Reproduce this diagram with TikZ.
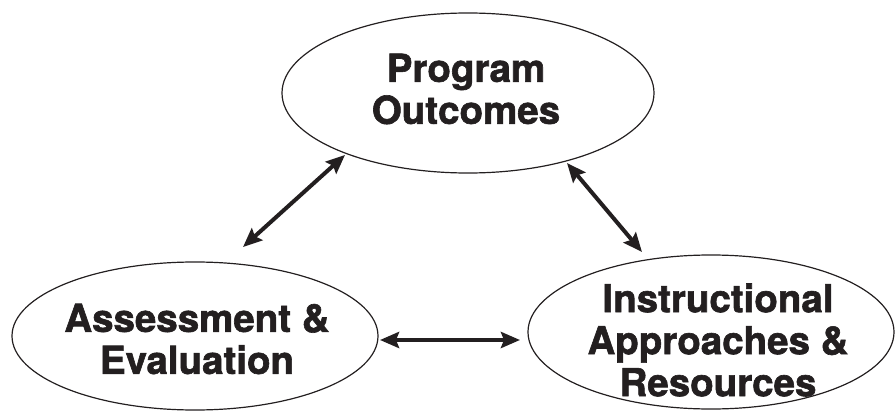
\documentclass[tikz,border=0pt]{standalone}
\usepackage{fontspec}
\setmainfont{TeX Gyre Heros}[BoldFeatures={FakeBold=1.6}]
\usetikzlibrary{shapes.geometric,arrows.meta,calc}
\definecolor{ink}{HTML}{231F20}
\tikzset{
  oval/.style={ellipse, draw=ink, line width=1.2pt, inner sep=0pt},
  lbl/.style={align=center, text=ink, font=\fontsize{38.5}{42}\selectfont\bfseries, inner sep=0pt},
  arr/.style={draw=ink, line width=4pt, {Stealth[length=19pt,width=16pt,inset=3pt]}-{Stealth[length=19pt,width=16pt,inset=3pt]}}
}
\begin{document}
\begin{tikzpicture}[x=1pt,y=-1pt]
\useasboundingbox (0,0) rectangle (895,412);
\node[oval, minimum width=372pt, minimum height=160pt] (po) at (468,93) {};
\node[oval, minimum width=366pt, minimum height=148pt] (ae) at (195,336) {};
\node[oval, minimum width=366pt, minimum height=154pt] (ir) at (711,332) {};
\node[lbl] (pot) at (466,89) {Program\\Outcomes};
\node[lbl] (aet) at (197,339) {Assessment \&\\Evaluation};
\node[lbl] (irt) at (718,340) {Instructional\\Approaches \&\\Resources};
\draw[arr] ($(po.center)+(-123,62)$) -- ($(ae.center)+(48,-89)$);
\draw[arr] ($(po.center)+(99,70)$) -- ($(ir.center)+(-69,-80)$);
\draw[arr] ($(ae.center)+(185,4)$) -- ($(ir.center)+(-191,8)$);
\end{tikzpicture}
\end{document}
